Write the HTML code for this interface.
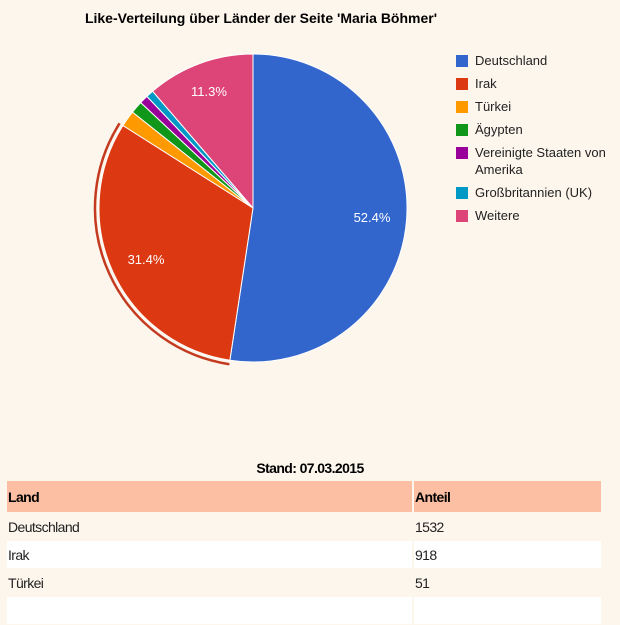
<!DOCTYPE html>
<html><head><meta charset="utf-8"><style>
body{margin:0;width:620px;height:600px;background:#fdf6ed;overflow:hidden;font-family:"Liberation Sans",sans-serif;position:relative}
.t{position:absolute;left:0;top:10px;width:522px;text-align:center;font-weight:bold;font-size:14px;color:#000}
.lg{position:absolute;left:456px;font-size:13px;color:#222}
.lg i{position:absolute;left:0;top:1px;width:12px;height:12px}
.lg span{position:absolute;left:19px;white-space:nowrap;line-height:17px;top:-2px}
.st{position:absolute;top:460px;left:0;width:620px;text-align:center;font-weight:bold;font-size:14px;letter-spacing:-0.6px}
table{position:absolute;left:5px;top:480px;width:598px;border-collapse:separate;border-spacing:2px 1px;font-size:14px;letter-spacing:-0.6px}
td{height:27px;padding:0 0 0 1px;color:#222}
th{height:29px;background:#fdbfa3;text-align:left;padding-left:1px;font-size:14px}
tr.w td{background:#fff}
</style></head><body>
<div class="t">Like-Verteilung über Länder der Seite 'Maria Böhmer'</div>
<svg id="s" width="620" height="440" style="position:absolute;left:0;top:0"></svg>
<div class="lg" style="top:54px"><i style="background:#3366cc"></i><span>Deutschland</span></div>
<div class="lg" style="top:77px"><i style="background:#dc3912"></i><span>Irak</span></div>
<div class="lg" style="top:100px"><i style="background:#ff9900"></i><span>Türkei</span></div>
<div class="lg" style="top:123px"><i style="background:#109618"></i><span>Ägypten</span></div>
<div class="lg" style="top:146px"><i style="background:#990099"></i><span>Vereinigte Staaten von<br>Amerika</span></div>
<div class="lg" style="top:186px"><i style="background:#0099c6"></i><span>Großbritannien (UK)</span></div>
<div class="lg" style="top:209px"><i style="background:#dd4477"></i><span>Weitere</span></div>
<div class="st">Stand: 07.03.2015</div>
<table>
<tr><th style="width:403px">Land</th><th>Anteil</th></tr>
<tr><td>Deutschland</td><td>1532</td></tr>
<tr class="w"><td>Irak</td><td>918</td></tr>
<tr><td>Türkei</td><td>51</td></tr>
<tr class="w"><td></td><td></td></tr>
</table>
<script>
var cx=253,cy=208,r=154,d=[[52.4,'#3366cc'],[31.6,'#dc3912'],[1.7,'#ff9900'],[1.3,'#109618'],[0.9,'#990099'],[0.8,'#0099c6'],[11.3,'#dd4477']];
function p(a,rr){a=a*Math.PI/180;return [cx+rr*Math.sin(a),cy-rr*Math.cos(a)];}
var s='',a=0;
d.forEach(function(x){var b=a+x[0]*3.6,p1=p(a,r),p2=p(b,r);
s+='<path d="M'+cx+' '+cy+'L'+p1[0]+' '+p1[1]+'A'+r+' '+r+' 0 '+(b-a>180?1:0)+' 1 '+p2[0]+' '+p2[1]+'Z" fill="'+x[1]+'" stroke="#fff" stroke-width="1"/>';a=b;});
var q1=p(188.6,158),q2=p(302.4,158);
s+='<path d="M'+q1[0]+' '+q1[1]+'A158 158 0 0 1 '+q2[0]+' '+q2[1]+'" fill="none" stroke="#c33a1f" stroke-width="2.5"/>';
s+='<text x="372" y="222" fill="#fff" font-size="13" text-anchor="middle" font-family="Liberation Sans">52.4%</text>';
s+='<text x="146" y="264" fill="#fff" font-size="13" text-anchor="middle" font-family="Liberation Sans">31.4%</text>';
s+='<text x="209" y="96" fill="#fff" font-size="13" text-anchor="middle" font-family="Liberation Sans">11.3%</text>';
document.getElementById('s').innerHTML=s;
</script>
</body></html>
